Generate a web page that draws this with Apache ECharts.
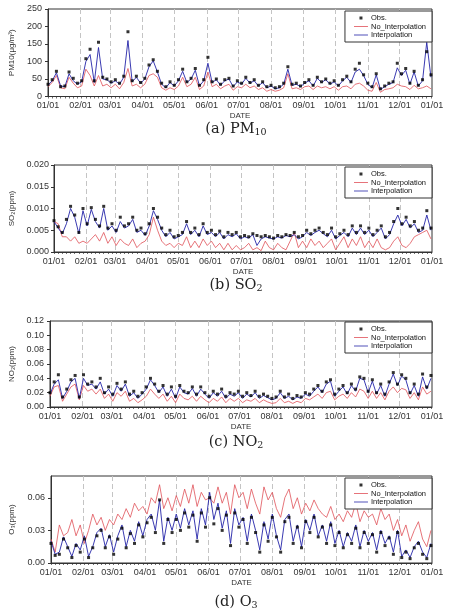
<!DOCTYPE html>
<html><head><meta charset="utf-8">
<script src="https://cdn.jsdelivr.net/npm/echarts@6/dist/echarts.min.js"></script>
<style>html,body{margin:0;padding:0;background:#fff}#c{width:452px;height:614px}</style>
</head><body><div id="c"></div>
<script>
// ---- tick labels / calendar ----
const monthStarts = [0,31,59,90,120,151,181,212,243,273,304,334,365];
const monthLabels = ['01/01','02/01','03/01','04/01','05/01','06/01','07/01','08/01','09/01','10/01','11/01','12/01','01/01'];
// day-of-year of each sampled value (every 4th day)
const sampleDays = Array.from({length:92},(_,i)=>i*4);

// ---- (a) PM10 ----
const pm10Obs = [35,48,72,28,30,70,52,38,45,108,
 135,45,155,55,50,42,48,38,58,185,
 45,58,40,52,90,105,72,38,28,42,
 32,48,78,42,52,80,32,48,112,42,
 50,35,48,52,30,45,38,55,40,48,
 32,42,28,32,25,28,38,85,35,38,
 30,40,48,32,55,42,50,38,45,32,
 48,58,42,78,95,62,38,28,65,22,
 30,38,42,95,65,80,38,72,32,48,
 128,62];
const pm10NoInterp = [28,40,60,25,22,55,38,25,30,78,
 60,30,60,30,35,25,35,22,40,80,
 30,35,25,35,60,65,55,25,18,25,
 20,30,55,28,35,55,20,30,70,28,
 35,22,30,35,18,28,25,35,25,30,
 20,25,15,20,15,18,25,65,22,25,
 20,28,30,20,30,25,28,22,28,18,
 28,30,22,35,38,30,18,15,40,12,
 20,22,25,35,30,28,20,32,22,25,
 30,22];
const pm10Interp = [32,45,68,30,28,65,45,35,42,100,
 120,40,140,50,48,38,45,35,55,160,
 42,55,38,50,85,102,70,35,25,40,
 30,45,72,40,50,75,30,45,95,40,
 48,32,45,50,28,42,35,52,38,45,
 30,40,25,30,22,25,35,78,32,35,
 28,38,45,30,52,40,48,35,42,30,
 45,55,40,70,78,60,35,25,62,20,
 28,35,40,82,60,75,35,70,30,45,
 155,55];

// ---- (b) SO2 ----
const so2Obs = [0.0072,0.0058,0.0045,0.0075,0.0105,0.0085,0.0045,0.0100,0.0065,0.0102,
 0.0075,0.0060,0.0105,0.0055,0.0065,0.0050,0.0080,0.0060,0.0065,0.0080,
 0.0050,0.0055,0.0042,0.0065,0.0100,0.0080,0.0055,0.0040,0.0050,0.0035,
 0.0038,0.0045,0.0070,0.0045,0.0055,0.0040,0.0065,0.0045,0.0050,0.0040,
 0.0048,0.0035,0.0045,0.0040,0.0045,0.0035,0.0038,0.0035,0.0042,0.0038,
 0.0035,0.0038,0.0035,0.0032,0.0038,0.0035,0.0040,0.0038,0.0045,0.0035,
 0.0038,0.0050,0.0042,0.0050,0.0055,0.0045,0.0040,0.0055,0.0035,0.0042,
 0.0050,0.0040,0.0060,0.0045,0.0060,0.0045,0.0055,0.0040,0.0050,0.0060,
 0.0035,0.0045,0.0070,0.0100,0.0065,0.0080,0.0060,0.0070,0.0050,0.0055,
 0.0095,0.0055];
const so2NoInterp = [0.0070,0.0065,0.0035,0.0035,0.0025,0.0035,0.0020,0.0025,0.0020,0.0030,
 0.0040,0.0025,0.0045,0.0020,0.0035,0.0015,0.0030,0.0020,0.0015,0.0030,
 0.0010,0.0020,0.0025,0.0040,0.0080,0.0050,0.0025,0.0015,0.0020,0.0010,
 0.0020,0.0015,0.0035,0.0010,0.0025,0.0010,0.0030,0.0015,0.0025,0.0010,
 0.0020,0.0005,0.0020,0.0005,0.0015,0.0005,0.0010,0.0020,0.0005,0.0010,
 0.0003,0.0025,0.0010,0.0005,0.0020,0.0010,0.0005,0.0025,0.0045,0.0010,
 0.0025,0.0010,0.0030,0.0015,0.0025,0.0010,0.0020,0.0030,0.0005,0.0020,
 0.0035,0.0010,0.0030,0.0015,0.0035,0.0010,0.0025,0.0010,0.0030,0.0010,
 0.0005,0.0010,0.0025,0.0035,0.0015,0.0010,0.0020,0.0035,0.0040,0.0045,
 0.0050,0.0030];
const so2Interp = [0.0070,0.0055,0.0042,0.0065,0.0100,0.0080,0.0042,0.0095,0.0060,0.0098,
 0.0070,0.0055,0.0100,0.0050,0.0060,0.0045,0.0070,0.0055,0.0060,0.0075,
 0.0045,0.0050,0.0038,0.0060,0.0095,0.0075,0.0050,0.0035,0.0045,0.0030,
 0.0035,0.0040,0.0065,0.0040,0.0050,0.0035,0.0060,0.0040,0.0045,0.0035,
 0.0045,0.0030,0.0040,0.0035,0.0042,0.0030,0.0035,0.0032,0.0040,0.0015,
 0.0030,0.0035,0.0032,0.0030,0.0035,0.0032,0.0038,0.0035,0.0040,0.0030,
 0.0035,0.0045,0.0038,0.0045,0.0050,0.0042,0.0035,0.0050,0.0030,0.0038,
 0.0045,0.0035,0.0055,0.0040,0.0055,0.0040,0.0050,0.0035,0.0045,0.0055,
 0.0030,0.0040,0.0065,0.0085,0.0060,0.0075,0.0055,0.0065,0.0045,0.0050,
 0.0085,0.0050];

// ---- (c) NO2 ----
const no2Obs = [0.020,0.035,0.045,0.014,0.025,0.038,0.044,0.014,0.045,0.032,
 0.035,0.028,0.040,0.020,0.028,0.018,0.033,0.025,0.035,0.018,
 0.022,0.015,0.020,0.028,0.040,0.032,0.022,0.030,0.018,0.028,
 0.015,0.030,0.022,0.020,0.028,0.018,0.028,0.020,0.015,0.022,
 0.018,0.025,0.015,0.020,0.018,0.022,0.015,0.020,0.016,0.022,
 0.015,0.018,0.015,0.012,0.014,0.022,0.014,0.018,0.012,0.016,
 0.014,0.020,0.018,0.025,0.030,0.022,0.035,0.038,0.018,0.025,
 0.030,0.020,0.032,0.025,0.042,0.040,0.022,0.038,0.020,0.032,
 0.018,0.035,0.048,0.032,0.045,0.040,0.020,0.032,0.018,0.046,
 0.028,0.044];
const no2NoInterp = [0.015,0.028,0.030,0.008,0.018,0.028,0.032,0.010,0.030,0.022,
 0.025,0.018,0.025,0.012,0.018,0.008,0.020,0.015,0.022,0.008,
 0.012,0.006,0.010,0.015,0.025,0.018,0.012,0.018,0.008,0.015,
 0.006,0.018,0.012,0.010,0.015,0.008,0.015,0.010,0.006,0.012,
 0.008,0.014,0.006,0.012,0.008,0.012,0.006,0.010,0.008,0.012,
 0.006,0.010,0.007,0.005,0.006,0.012,0.006,0.008,0.005,0.008,
 0.006,0.012,0.010,0.014,0.018,0.012,0.020,0.022,0.010,0.015,
 0.018,0.012,0.020,0.014,0.025,0.022,0.012,0.022,0.012,0.020,
 0.010,0.022,0.028,0.020,0.026,0.024,0.012,0.020,0.010,0.028,
 0.018,0.022];
const no2Interp = [0.018,0.032,0.038,0.012,0.022,0.035,0.040,0.012,0.040,0.030,
 0.032,0.025,0.035,0.018,0.025,0.015,0.030,0.022,0.032,0.015,
 0.020,0.012,0.018,0.025,0.038,0.030,0.020,0.028,0.015,0.025,
 0.012,0.028,0.020,0.018,0.026,0.015,0.025,0.018,0.012,0.020,
 0.015,0.022,0.012,0.018,0.015,0.020,0.012,0.018,0.014,0.020,
 0.012,0.016,0.013,0.010,0.012,0.020,0.012,0.015,0.010,0.014,
 0.012,0.018,0.015,0.022,0.028,0.020,0.032,0.036,0.015,0.022,
 0.028,0.018,0.030,0.022,0.040,0.038,0.020,0.036,0.018,0.030,
 0.015,0.032,0.046,0.030,0.043,0.038,0.018,0.030,0.015,0.042,
 0.025,0.040];

// ---- (d) O3 ----
const o3Obs = [0.018,0.007,0.008,0.022,0.014,0.005,0.016,0.010,0.022,0.005,
 0.014,0.025,0.030,0.014,0.024,0.008,0.022,0.032,0.014,0.027,
 0.018,0.035,0.024,0.037,0.042,0.028,0.058,0.018,0.040,0.028,
 0.040,0.030,0.046,0.033,0.044,0.020,0.046,0.033,0.060,0.036,
 0.050,0.030,0.044,0.016,0.046,0.033,0.040,0.018,0.042,0.028,
 0.010,0.035,0.020,0.042,0.024,0.010,0.038,0.042,0.018,0.033,
 0.014,0.038,0.028,0.042,0.024,0.033,0.018,0.035,0.016,0.028,
 0.014,0.026,0.018,0.032,0.014,0.028,0.018,0.026,0.010,0.028,
 0.016,0.023,0.008,0.028,0.005,0.010,0.004,0.014,0.018,0.008,
 0.004,0.016];
const o3NoInterp = [0.022,0.010,0.035,0.025,0.028,0.040,0.025,0.035,0.018,0.030,
 0.045,0.035,0.042,0.030,0.040,0.035,0.045,0.040,0.050,0.042,
 0.055,0.048,0.052,0.045,0.060,0.055,0.072,0.050,0.060,0.048,
 0.062,0.052,0.068,0.055,0.072,0.052,0.065,0.058,0.060,0.055,
 0.070,0.055,0.065,0.045,0.072,0.060,0.065,0.050,0.068,0.055,
 0.045,0.070,0.058,0.065,0.050,0.042,0.060,0.068,0.050,0.060,
 0.045,0.055,0.048,0.058,0.050,0.045,0.042,0.052,0.040,0.045,
 0.038,0.048,0.042,0.055,0.038,0.048,0.042,0.045,0.035,0.050,
 0.040,0.045,0.030,0.040,0.025,0.035,0.020,0.030,0.038,0.022,
 0.015,0.030];
const o3Interp = [0.020,0.008,0.010,0.024,0.015,0.006,0.018,0.012,0.025,0.006,
 0.015,0.028,0.032,0.015,0.026,0.010,0.025,0.035,0.015,0.030,
 0.020,0.038,0.025,0.040,0.045,0.030,0.058,0.020,0.042,0.030,
 0.045,0.032,0.050,0.035,0.048,0.022,0.050,0.035,0.065,0.040,
 0.055,0.032,0.048,0.018,0.050,0.035,0.042,0.020,0.045,0.030,
 0.012,0.038,0.022,0.045,0.025,0.012,0.040,0.045,0.020,0.035,
 0.015,0.040,0.030,0.045,0.025,0.035,0.020,0.038,0.018,0.030,
 0.015,0.028,0.020,0.035,0.015,0.030,0.020,0.028,0.012,0.030,
 0.018,0.025,0.010,0.030,0.006,0.012,0.005,0.015,0.020,0.010,
 0.005,0.018];

// ---- y-axis setups ----
const yMax = [250, 0.020, 0.12, 0.08];
const yStep = [50, 0.005, 0.02, 0.03];
const yDigits = [0, 3, 2, 2];
const yNames = ['PM10(\u03bcg/m\u00b3)', 'SO\u2082(ppm)', 'NO\u2082(ppm)', 'O\u2083(ppm)'];
const captions = [['(a)','PM','10'], ['(b)','SO','2'], ['(c)','NO','2'], ['(d)','O','3']];

const panels = [
  {obs: pm10Obs, no: pm10NoInterp, it: pm10Interp},
  {obs: so2Obs, no: so2NoInterp, it: so2Interp},
  {obs: no2Obs, no: no2NoInterp, it: no2Interp},
  {obs: o3Obs, no: o3NoInterp, it: o3Interp}
];

// layout (px)
const gridRects = [
  {left:48, top:9, width:384, height:87.5},
  {left:54, top:165, width:378, height:87},
  {left:50, top:321, width:382, height:86},
  {left:51, top:476, width:381, height:87}
];
const yNameGap = [30, 38, 34, 35];
const yLabelMargin = [6, 5, 6, 6];
const legendTops = [11, 167, 322, 478];
const captionY = [129, 285, 442, 602];

const FONT = 'Arial, "Liberation Sans", sans-serif';
const RED = '#e05058';
const BLUE = '#2424a8';
const categories = Array.from({length:366},(_,d)=>'d'+d);
const pairs = vals => sampleDays.map((d,i)=>[d, vals[i]]);
const isMonth = idx => monthStarts.indexOf(idx) >= 0;
const dotIcon = 'path://M0,0L0,0M14,7L14,7M5.5,2L8.5,2L8.5,5L5.5,5Z';
const lineIcon = 'path://M0,3.1L14,3.1L14,3.9L0,3.9Z';

const option = {
  animation: false,
  textStyle: {fontFamily: FONT},
  grid: [], xAxis: [], yAxis: [], series: [], legend: [], graphic: []
};

panels.forEach((p, k) => {
  option.grid.push(Object.assign({show:true, borderColor:'#333', borderWidth:1, containLabel:false, outerBoundsMode:'none'}, gridRects[k]));
  option.xAxis.push({
    type:'category', gridIndex:k, data:categories, boundaryGap:false,
    axisLine:{show:true, lineStyle:{color:'#333', width:1}},
    axisTick:{show:true, interval:(i)=> i%4===0, length:2, lineStyle:{color:'#333', width:0.7}},
    axisLabel:{interval:(i)=>isMonth(i), fontSize:9, color:'#333', margin:5, fontFamily:FONT,
      formatter:(v, i)=>{const m = monthStarts.indexOf(i); return m>=0 ? monthLabels[m] : '';}},
    splitLine:{show:true, interval:(i)=>isMonth(i) && i>0 && i<365, lineStyle:{color:'#c4c4c4', type:[5,3], width:1}},
    name:'DATE', nameLocation:'middle', nameGap:15.5,
    nameTextStyle:{fontSize:8, color:'#333', fontFamily:FONT}
  });
  option.yAxis.push({
    type:'value', gridIndex:k, min:0, max:yMax[k], interval:yStep[k],
    axisLine:{show:true, lineStyle:{color:'#333', width:1}},
    axisTick:{show:true, length:3, lineStyle:{color:'#333'}},
    axisLabel:{fontSize:9, color:'#333', margin:yLabelMargin[k], fontFamily:FONT, showMaxLabel: k!==3,
      formatter:(v)=>v.toFixed(yDigits[k])},
    splitLine:{show:false},
    name:yNames[k], nameLocation:'middle', nameRotate:90, nameGap:yNameGap[k],
    nameTextStyle:{fontSize:8, color:'#333', fontFamily:FONT}
  });
  option.series.push({
    type:'line', name:'No_Interpolation', xAxisIndex:k, yAxisIndex:k, data:pairs(p.no),
    symbol:'none', lineStyle:{color:RED, width:0.8}, itemStyle:{color:RED}, z:2
  });
  option.series.push({
    type:'line', name:'Interpolation', xAxisIndex:k, yAxisIndex:k, data:pairs(p.it),
    symbol:'none', lineStyle:{color:BLUE, width:0.9}, itemStyle:{color:BLUE}, z:3
  });
  option.series.push({
    type:'scatter', name:'Obs.', xAxisIndex:k, yAxisIndex:k, data:pairs(p.obs),
    symbol:'rect', symbolSize:3, itemStyle:{color:'#000'}, z:4
  });
  option.legend.push({
    data:[{name:'Obs.', icon:dotIcon}, {name:'No_Interpolation', icon:lineIcon}, {name:'Interpolation', icon:lineIcon}],
    orient:'vertical', right:20, top:legendTops[k], itemWidth:14, itemHeight:7, itemGap:0.5,
    padding:[3,6,3,9], borderColor:'#333', borderWidth:1, borderRadius:0, backgroundColor:'#fff',
    textStyle:{fontSize:7.5, color:'#111', fontFamily:FONT, padding:[0,0,0,-2]},
    selectedMode:false
  });
  const c = captions[k];
  option.graphic.push({
    type:'text', x:236, y:captionY[k], silent:true,
    style:{
      text:'{n|'+c[0]+' '+c[1]+'}{s|'+c[2]+'}',
      align:'center', verticalAlign:'middle',
      rich:{
        n:{fontFamily:'"DejaVu Serif", "Liberation Serif", serif', fontSize:14.5, fill:'#222', color:'#222', lineHeight:18},
        s:{fontFamily:'"DejaVu Serif", "Liberation Serif", serif', fontSize:9.5, fill:'#222', color:'#222', lineHeight:18, padding:[8,0,0,0]}
      }
    }
  });
});

const chart = echarts.init(document.getElementById('c'), null, {renderer:'canvas'});
chart.setOption(option);
</script>
</body></html>
